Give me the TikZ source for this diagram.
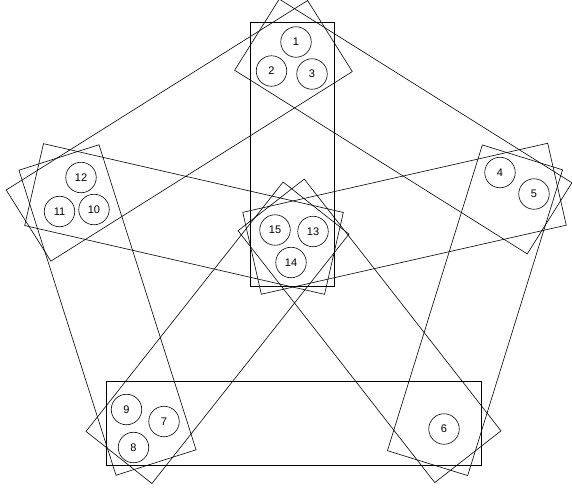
\documentclass[tikz,border=0pt]{standalone}
\usepackage{fontspec}
\setmainfont{Liberation Sans}
\usetikzlibrary{calc}

% rectangle round the segment between two end points
\newcommand{\hedge}[2]{%
  \coordinate (s) at ($(#1)!-42pt!(#2)$);
  \coordinate (t) at ($(#2)!-42pt!(#1)$);
  \draw ($(s)!42pt!90:(t)$) -- ($(s)!42pt!-90:(t)$) -- ($(t)!42pt!90:(s)$) -- ($(t)!42pt!-90:(s)$) -- cycle;}

\begin{document}
\begin{tikzpicture}[x=1pt, y=-1pt, line width=0.6pt,
                    vx/.style={draw, circle, minimum size=30.5pt, inner sep=0pt, font=\fontsize{11}{13}\selectfont}]
  \clip (0,0) rectangle (572,488);
  % ends of the hyperedges, (xy) lies in group x
  \coordinate (af) at (292.5,64);    \coordinate (fa) at (292.5,244);
  \coordinate (ab) at (292.5,57);    \coordinate (ba) at (514,196);
  \coordinate (ae) at (294.4,58.4);  \coordinate (ea) at (64.1,203.2);
  \coordinate (bc) at (510,197.5);   \coordinate (cb) at (440,423);
  \coordinate (bf) at (516,193.5);   \coordinate (fb) at (293,244);
  \coordinate (cd) at (439,423.5);   \coordinate (dc) at (148,423.5);
  \coordinate (cf) at (442,423.6);   \coordinate (fc) at (297,238);
  \coordinate (de) at (143.3,422.5); \coordinate (ed) at (71.7,197.5);
  \coordinate (df) at (145,424.5);   \coordinate (fd) at (290,241);
  \coordinate (ef) at (75,194);      \coordinate (fe) at (293,244);
  \foreach \a/\b in {af/fa, ab/ba, ae/ea, bc/cb, bf/fb, cd/dc, cf/fc, de/ed, df/fd, ef/fe} {\hedge{\a}{\b}}
  % vertices
  \node[vx] (v1) at (296,42) {1};
  \node[vx] (v2) at (271.5,71) {2};
  \node[vx] (v3) at (312,74) {3};
  \node[vx] (v4) at (500,172.5) {4};
  \node[vx] (v5) at (534,194) {5};
  \node[vx] (v6) at (444,429) {6};
  \node[vx] (v7) at (164,421.5) {7};
  \node[vx] (v8) at (133.5,447.5) {8};
  \node[vx] (v9) at (126.5,409.5) {9};
  \node[vx] (v10) at (94,209.5) {10};
  \node[vx] (v11) at (59.5,211.5) {11};
  \node[vx] (v12) at (81,177.5) {12};
  \node[vx] (v13) at (313,231.5) {13};
  \node[vx] (v14) at (291,262.5) {14};
  \node[vx] (v15) at (275,230) {15};
\end{tikzpicture}
\end{document}
